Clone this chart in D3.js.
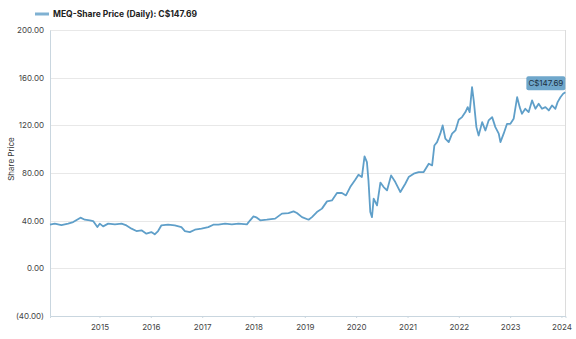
<!DOCTYPE html>
<html>
<head>
<meta charset="utf-8">
<script src="https://cdn.jsdelivr.net/npm/d3@7"></script>
<style>
  html, body { margin: 0; padding: 0; background: #fff; }
  svg { display: block; font-family: Inter, "Noto Sans", sans-serif; }
</style>
</head>
<body>
<svg id="chart" width="576" height="339"></svg>
<script>
const seriesName = "MEQ-Share Price (Daily): C$147.69";
const lastLabel = "C$147.69";
const yTicks = [-40, 0, 40, 80, 120, 160, 200];
const xTickYears = [2015, 2016, 2017, 2018, 2019, 2020, 2021, 2022, 2023, 2024];
const dates = [
  "2014-01-14","2014-02-17","2014-04-05","2014-05-23","2014-06-28","2014-08-19","2014-09-19","2014-10-24","2014-11-17","2014-12-17",
  "2015-01-03","2015-01-27","2015-03-04","2015-04-21","2015-06-07","2015-07-12","2015-08-17","2015-09-21","2015-10-27","2015-12-01",
  "2016-01-05","2016-01-29","2016-02-22","2016-03-16","2016-05-03","2016-06-20","2016-08-06","2016-08-31","2016-10-05","2016-11-10","2016-12-27",
  "2017-02-13","2017-03-21","2017-04-26","2017-06-13","2017-07-31","2017-09-16","2017-11-15","2017-12-08",
  "2018-01-01","2018-01-25","2018-02-18","2018-04-06","2018-06-04","2018-07-22","2018-09-07","2018-10-13","2018-11-06","2018-12-12",
  "2019-01-28","2019-02-21","2019-03-28","2019-05-03","2019-06-08","2019-07-13","2019-08-18","2019-09-22","2019-10-21","2019-11-20","2019-12-26",
  "2020-01-18","2020-02-11","2020-03-01","2020-03-18","2020-03-29","2020-04-11","2020-04-23","2020-05-05","2020-05-29","2020-06-22","2020-07-15","2020-08-08","2020-09-06","2020-10-06","2020-11-11","2020-12-16",
  "2021-01-09","2021-02-14","2021-03-21","2021-04-26","2021-06-01","2021-06-25","2021-07-11","2021-07-30","2021-08-22","2021-09-08","2021-09-27","2021-10-21","2021-11-14","2021-12-08","2021-12-31",
  "2022-01-24","2022-02-17","2022-03-05","2022-03-19","2022-04-05","2022-04-17","2022-05-06","2022-05-22","2022-06-16","2022-07-09","2022-08-01","2022-08-26","2022-09-18","2022-10-12","2022-10-24","2022-11-16","2022-12-10",
  "2023-01-03","2023-01-26","2023-02-20","2023-03-10","2023-03-26","2023-04-19","2023-05-13","2023-06-06","2023-06-30","2023-07-23","2023-08-16","2023-09-09","2023-10-03","2023-10-26","2023-11-19","2023-12-05","2023-12-25",
  "2024-01-13","2024-01-29"
];
const prices = [
  36.6,37.5,36.3,37.5,38.8,42.5,40.8,40.3,39.7,34.6,
  37.5,35.2,37.5,36.9,37.5,36.0,33.3,31.3,31.9,29.1,
  30.4,28.5,31.3,36.0,36.6,36.0,34.6,31.3,30.4,32.4,33.3,
  34.6,36.6,36.6,37.5,36.9,37.5,36.9,40.3,
  43.6,42.5,40.3,40.8,41.7,45.9,46.4,47.8,46.4,43.0,
  40.8,43.0,47.2,50.1,56.2,57.0,63.2,63.2,61.2,68.2,74.4,
  78.6,76.6,93.9,89.1,73.8,47.2,43.0,58.5,52.8,72.0,68.2,65.4,78.0,72.4,64.0,71.0,
  76.6,79.4,80.8,80.8,87.8,86.4,103.1,105.9,113.0,119.9,108.8,105.9,113.0,115.7,124.7,
  126.9,131.1,135.3,131.1,152.0,141.0,118.5,111.5,122.7,115.7,124.1,126.9,118.5,113.0,105.9,113.0,121.3,
  121.3,125.5,143.6,135.3,129.7,133.9,131.1,140.9,133.9,138.1,133.9,135.3,132.5,136.7,133.9,139.5,143.6,
  146.5,147.69
];

const parse = d3.timeParse("%Y-%m-%d");
const data = dates.map((d, i) => ({ date: parse(d), value: prices[i] }));

const svg = d3.select("#chart");
const mLeft = 50, mRight = 565.5, mTop = 30, mBottom = 316;

const x = d3.scaleTime()
  .domain([parse("2014-01-14"), parse("2024-01-30")])
  .range([mLeft, mRight]);
const y = d3.scaleLinear().domain([-40, 200]).range([mBottom, mTop]);

const fmt = v => v < 0 ? "(" + d3.format(".2f")(-v) + ")" : d3.format(".2f")(v);

// gridlines
svg.append("g").selectAll("line").data(yTicks.filter(t => t > -40)).join("line")
  .attr("x1", mLeft).attr("x2", mRight)
  .attr("y1", d => Math.round(y(d)) + 0.5).attr("y2", d => Math.round(y(d)) + 0.5)
  .attr("stroke", "#e8e8e8").attr("stroke-width", 1);

// right border
svg.append("line").attr("x1", mRight).attr("x2", mRight).attr("y1", mTop).attr("y2", mBottom)
  .attr("stroke", "#dcdcdc");

// y axis
const yAxis = svg.append("g").attr("transform", `translate(${mLeft},0)`)
  .call(d3.axisLeft(y).tickValues(yTicks).tickFormat(fmt).tickSize(0).tickPadding(6));
yAxis.select(".domain").attr("stroke", "#c9d6df");
yAxis.selectAll("text").attr("font-size", 8).attr("fill", "#444")
  .attr("font-family", "Inter, sans-serif");

// x axis
const xAxis = svg.append("g").attr("transform", `translate(0,${mBottom})`)
  .call(d3.axisBottom(x).tickValues(xTickYears.map(yr => new Date(yr, 0, 1)))
    .tickFormat(d3.timeFormat("%Y")).tickSize(2).tickPadding(6));
xAxis.select(".domain").attr("stroke", "#c9d6df");
xAxis.selectAll(".tick line").attr("stroke", "#c9d6df");
xAxis.selectAll("text").attr("font-size", 8).attr("fill", "#444")
  .attr("font-family", "Inter, sans-serif");

// y title
svg.append("text").attr("transform", `translate(14,159) rotate(-90)`)
  .attr("text-anchor", "middle").attr("font-size", 8).attr("fill", "#333")
  .text("Share Price");

// line
const line = d3.line().x(d => x(d.date)).y(d => y(d.value)).curve(d3.curveLinear);
svg.append("path").datum(data).attr("d", line)
  .attr("fill", "none").attr("stroke", "#5f9fc9").attr("stroke-width", 1.8)
  .attr("stroke-linejoin", "round");

// legend
svg.append("line").attr("x1", 35).attr("x2", 49).attr("y1", 14).attr("y2", 14)
  .attr("stroke", "#7fb1d2").attr("stroke-width", 3);
svg.append("text").attr("x", 53).attr("y", 17).attr("font-size", 8.5)
  .attr("font-weight", "bold").attr("fill", "#222").text(seriesName);

// end label
const last = data[data.length - 1];
const g = svg.append("g");
const lx = x(last.date), ly = y(last.value);
g.append("rect").attr("x", lx - 39).attr("y", ly - 16).attr("width", 39).attr("height", 14)
  .attr("rx", 2).attr("fill", "#6fa7cb");
g.append("text").attr("x", lx - 19.5).attr("y", ly - 6).attr("text-anchor", "middle")
  .attr("font-size", 8).attr("fill", "#1b2f40").text(lastLabel);
</script>
</body>
</html>
